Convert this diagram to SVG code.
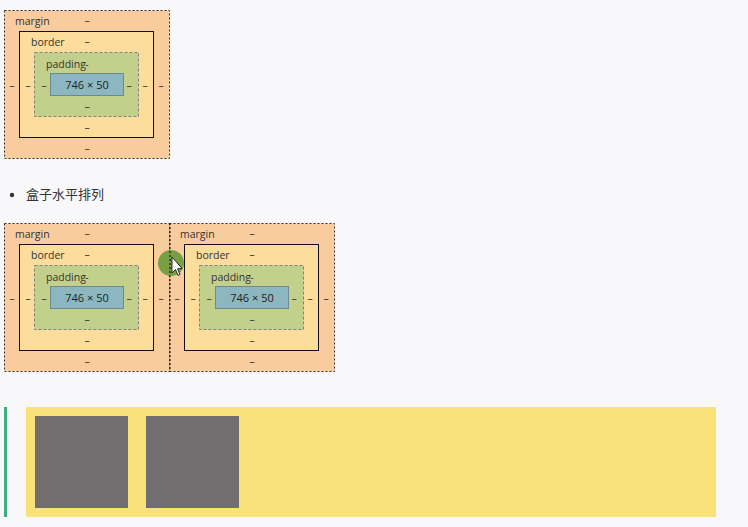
<svg xmlns="http://www.w3.org/2000/svg" width="748" height="527" viewBox="0 0 748 527">
<style>
.m{fill:#f9cc9d;stroke:#333;stroke-width:1;stroke-dasharray:2 2}
.b{fill:#fddd9b;stroke:#111;stroke-width:1}
.p{fill:#c3d08b;stroke:#808080;stroke-width:1;stroke-dasharray:3 2}
.c{fill:#8cb6c0;stroke:#6b8a93;stroke-width:1}
.t{font-family:"Open Sans","Liberation Sans",sans-serif;font-size:10.5px;fill:#333}
.d{font-family:"Open Sans","Liberation Sans",sans-serif;font-size:10.5px;fill:#333;text-anchor:middle}
.ct{font-family:"Open Sans","Liberation Sans",sans-serif;font-size:11px;fill:#222;text-anchor:middle}
</style>
<defs>
<g id="bm">
<rect class="m" x="0.5" y="0.5" width="165" height="148"/>
<rect class="b" x="15.5" y="21.5" width="134" height="106"/>
<rect class="p" x="30.5" y="42.5" width="104" height="64"/>
<rect class="c" x="46.5" y="63.5" width="73" height="22"/>
<text class="t" x="11" y="15">margin</text>
<text class="d" x="83" y="14">–</text>
<text class="t" x="27" y="36">border</text>
<text class="d" x="83" y="35">–</text>
<text class="t" x="42" y="58">padding</text>
<text class="d" x="83" y="58">-</text>
<text class="ct" x="83" y="79">746 × 50</text>
<text class="d" x="8" y="79">–</text>
<text class="d" x="24" y="79">–</text>
<text class="d" x="40" y="79">–</text>
<text class="d" x="125" y="79">–</text>
<text class="d" x="141" y="79">–</text>
<text class="d" x="157" y="79">–</text>
<text class="d" x="83" y="100">–</text>
<text class="d" x="83" y="121">–</text>
<text class="d" x="83" y="142">–</text>
</g>
</defs>
<rect width="748" height="527" fill="#f8f8fa"/>
<g id="boxTop"><use href="#bm" x="4" y="10"/></g>
<g id="bullet">
<circle cx="12" cy="195" r="2.2" fill="#333"/>
<text x="26" y="199" font-family="'Noto Sans CJK SC',sans-serif" font-size="13" fill="#333">盒子水平排列</text>
</g>
<g id="boxLeft"><use href="#bm" x="4" y="223"/></g>
<g id="boxRight"><use href="#bm" x="169" y="223"/></g>
<g id="cursor">
<circle cx="171" cy="263" r="13" fill="#6a9a3a" opacity="0.9"/>
<line x1="170" y1="223" x2="170" y2="372" stroke="#222" stroke-width="1.2" stroke-dasharray="2 2"/>
<path d="M172,257 L172,273 L175.5,269.5 L178,275.5 L180,274.5 L177.5,268.8 L182,268.5 Z" fill="#fff" stroke="#000" stroke-width="0.8"/>
</g>
<g id="demo">
<rect x="4" y="407" width="3" height="110" fill="#3eaf7c"/>
<rect x="26" y="407" width="690" height="110" fill="#f9e27a"/>
<rect x="35" y="416" width="93" height="92" fill="#716e70"/>
<rect x="146" y="416" width="93" height="92" fill="#716e70"/>
</g>
</svg>
